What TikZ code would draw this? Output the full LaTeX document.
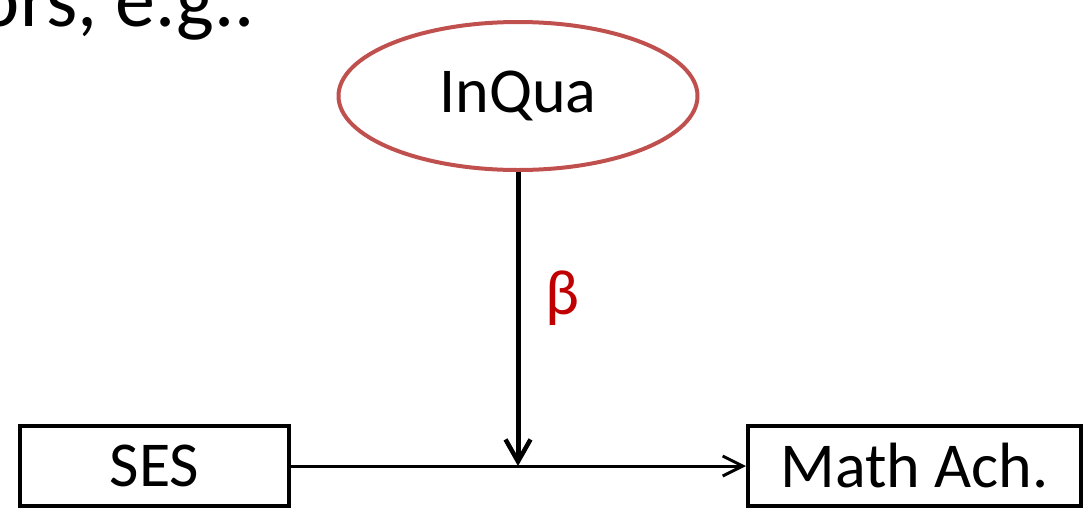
\documentclass[tikz,border=0pt]{standalone}
\usepackage{fontspec}
\setmainfont{Carlito}
\usetikzlibrary{shapes.geometric, arrows.meta, positioning}

\definecolor{ovalred}{RGB}{192,80,77}
\definecolor{betared}{RGB}{192,0,0}

\begin{document}
\begin{tikzpicture}[
    x=1pt, y=-1pt,
    big/.style={font=\fontsize{64}{76}\selectfont},
    var/.style={draw, rectangle, line width=4pt, minimum height=80pt, inner sep=0pt, align=center, big},
    latent/.style={draw=ovalred, ellipse, line width=4pt, minimum width=359pt, minimum height=148pt, inner sep=0pt, big},
    path/.style={-{Straight Barb[length=20pt, width=20pt, line width=3pt]}, line width=3pt},
    moderator/.style={-{Straight Barb[length=22pt, width=25pt, line width=4.5pt]}, line width=5pt}
  ]
    \useasboundingbox (0,0) rectangle (1086,512);

    % Slide text (cut off)
    \node[anchor=base east, inner sep=0pt, font=\fontsize{80}{96}\selectfont] (slidetext) at (255,26) {ors, e.g..};

    % Nodes
    \node[latent] (inqua) at (518,96) {InQua};
    \node[var, minimum width=269pt] (ses) at (154.5,466) {SES};
    \node[var, minimum width=333pt] (math) at (914.5,466) {Math Ach.};
    \coordinate (join) at (518,466);

    % Connections
    \draw[path] (ses) -- (math);
    \draw[moderator] (inqua) -- node[pos=0.43, right=22pt, text=betared, big] {β} (join);

  \end{tikzpicture}
\end{document}
